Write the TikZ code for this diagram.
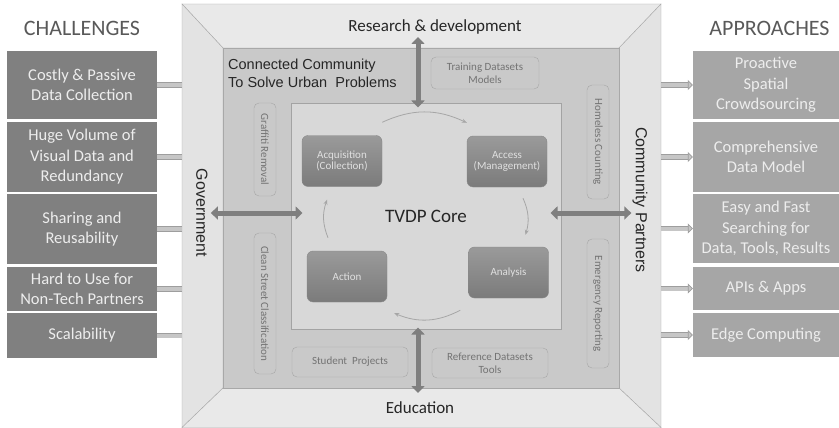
\documentclass[tikz,border=0pt]{standalone}
\usepackage{fontspec}
\setmainfont{Carlito}
\newfontfamily\arialfont{Liberation Sans}
\usepackage{xcolor}
\usepackage{tikz}
\usetikzlibrary{arrows.meta,shapes,positioning}

\definecolor{facelight}{HTML}{E9E9E9}
\definecolor{faceside}{HTML}{E3E3E3}
\definecolor{frameline}{HTML}{A8A8A8}
\definecolor{commfill}{HTML}{C9C9C9}
\definecolor{corefill}{HTML}{D8D8D8}
\definecolor{coreline}{HTML}{A3A3A3}
\definecolor{stagetop}{HTML}{9A9A9A}
\definecolor{stagebot}{HTML}{7B7B7B}
\definecolor{challfill}{HTML}{808080}
\definecolor{apprfill}{HTML}{A6A6A6}
\definecolor{barfill}{HTML}{C6C6C6}
\definecolor{barline}{HTML}{9E9E9E}
\definecolor{darkarrow}{HTML}{7F7F7F}
\definecolor{tagline}{HTML}{A6A6A6}
\definecolor{tagtext}{HTML}{737373}

\tikzset{
  challenge/.style={fill=challfill, text=white!93!black, minimum width=150pt, inner sep=0pt,
    align=center, font=\fontsize{16.5}{20.5}\selectfont},
  approach/.style={challenge, fill=apprfill, minimum width=146pt},
  stage/.style={rounded corners=6pt, draw=stagebot!90, top color=stagetop, bottom color=stagebot,
    text=white!88!black, minimum width=80pt, minimum height=51pt, align=center,
    font=\fontsize{11}{11.5}\selectfont},
  tag/.style={rounded corners=5pt, draw=tagline, text=tagtext, align=center, inner sep=0pt,
    font=\fontsize{11}{13}\selectfont},
  side/.style={font=\arialfont\fontsize{16}{18}\selectfont, text=black!85, rotate=-90, inner sep=1pt},
  biarrow/.style={darkarrow, line width=5pt,
    {Triangle[width=13pt,length=7pt]}-{Triangle[width=13pt,length=7pt]}},
  turn/.style={black!35, line width=0.8pt, -{Stealth[length=5pt,width=4pt]}},
  linkbar/.style={draw=barline, double=barfill, double distance=4pt, line width=0.7pt},
  outarrow/.style={linkbar, -{Triangle[width=10pt,length=5pt,fill=barfill]}},
}

\begin{document}
\begin{tikzpicture}[x=1pt, y=-1pt]
    \useasboundingbox (0,0) rectangle (839,428);

    % the open box
    \coordinate (o1) at (182,4);
    \coordinate (o2) at (661,4);
    \coordinate (o3) at (661,427.5);
    \coordinate (o4) at (182,427.5);
    \coordinate (i1) at (223,48);
    \coordinate (i2) at (619,48);
    \coordinate (i3) at (619,388);
    \coordinate (i4) at (223,388);
    \filldraw[fill=facelight, draw=frameline] (o1) -- (o2) -- (i2) -- (i1) -- cycle;
    \filldraw[fill=faceside, draw=frameline] (o1) -- (i1) -- (i4) -- (o4) -- cycle;
    \filldraw[fill=faceside, draw=frameline] (o2) -- (o3) -- (i3) -- (i2) -- cycle;
    \filldraw[fill=facelight, draw=frameline] (o4) -- (i4) -- (i3) -- (o3) -- cycle;

    \node[draw=frameline, fill=commfill, minimum width=396pt, minimum height=340pt, inner sep=0pt]
        (community) at (421,218) {};
    \node[anchor=north west, align=left, inner sep=0pt, text=black!85,
        font=\arialfont\fontsize{14.5}{18}\selectfont] (ccp) at (228,58.5)
        {Connected Community\\To Solve Urban\ \ Problems};
    \node[draw=coreline, fill=corefill, line width=1pt, minimum width=270pt, minimum height=225pt,
        text=black!85, font=\fontsize{19}{22}\selectfont] (core) at (426,216.5) {TVDP Core};

    % lifecycle
    \node[stage] (acq) at (342,161) {Acquisition\\(Collection)};
    \node[stage] (acc) at (507,161.5) {Access\\(Management)};
    \node[stage] (act) at (347,276.5) {Action};
    \node[stage] (ana) at (508.5,272.5) {Analysis};
    \draw[turn] ([yshift=13pt]acq.north east) to[bend left=25] ([yshift=13pt]acc.north west);
    \draw[turn] ([xshift=16pt,yshift=-11pt]acc.south) to[bend left=20] ([xshift=17pt,yshift=12pt]ana.north);
    \draw[turn] ([xshift=-8pt,yshift=-12pt]ana.south west) to[bend left=25] ([xshift=7pt,yshift=-11pt]act.south east);
    \draw[turn] ([xshift=-19pt,yshift=13pt]act.north) to[bend left=20] ([xshift=-15pt,yshift=-13pt]acq.south);

    % use cases
    \node[tag, minimum width=108pt, minimum height=32pt] (trainds) at (485,73) {Training Datasets\\Models};
    \node[tag, rotate=-90, minimum width=114pt, minimum height=22pt] (homeless) at (598,142) {Homeless Counting};
    \node[tag, rotate=-90, minimum width=129pt, minimum height=22pt] (emergency) at (598,303.5) {Emergency Reporting};
    \node[tag, rotate=-90, minimum width=93pt, minimum height=22pt] (graffiti) at (265,149.5) {Graffiti Removal};
    \node[tag, rotate=-90, minimum width=141pt, minimum height=22pt] (cleanst) at (265,303.5) {Clean Street Classification};
    \node[tag, minimum width=116pt, minimum height=30pt] (students) at (350,362) {Student\ \ Projects};
    \node[tag, minimum width=116pt, minimum height=30pt] (refds) at (490,363) {Reference Datasets\\Tools};

    % the four sides
    \node[font=\fontsize{17}{20}\selectfont, text=black!85] (research) at (435,27) {Research \& development};
    \node[font=\fontsize{17}{20}\selectfont, text=black!85] (edu) at (420,408) {Education};
    \node[side] (gov) at (202,213) {Government};
    \node[side] (partners) at (640,200) {Community Partners};
    \coordinate (rdtop) at (418,37);
    \coordinate (edbot) at (418,393);
    \draw[biarrow] (rdtop) -- ([yshift=-4pt]rdtop |- core.north);
    \draw[biarrow] ([yshift=2pt]edbot |- core.south) -- (edbot);
    \draw[biarrow] ([xshift=2pt]gov.north) -- ([xshift=12pt]gov.north -| core.west);
    \draw[biarrow] ([xshift=-11pt]gov.north -| core.east) -- (gov.north -| partners.south);

    % challenges
    \node[font=\fontsize{22}{24}\selectfont, text=black!65] (challenges) at (82,28) {CHALLENGES};
    \foreach \n/\y/\h/\t in {1/85/68/{Costly \& Passive\\Data Collection},
        2/157/70/{Huge Volume of\\Visual Data and\\Redundancy}, 3/229/70/{Sharing and\\Reusability},
        4/289/44/{Hard to Use for\\Non-Tech Partners}, 5/335.5/45/{Scalability}}{
        \node[challenge, minimum height=\h pt] (ch\n) at (82,\y) {\t};
        \draw[linkbar] (ch\n.east) -- (ch\n.east -| o1);
    }

    % approaches
    \node[font=\fontsize{22}{24}\selectfont, text=black!65] (approaches) at (769.5,28) {APPROACHES};
    \foreach \n/\y/\h/\t in {1/85/68/{Proactive\\Spatial\\Crowdsourcing},
        2/157/70/{Comprehensive\\Data Model}, 3/228.5/69/{Easy and Fast\\Searching for\\Data, Tools, Results},
        4/288.5/43/{APIs \& Apps}, 5/335/44/{Edge Computing}}{
        \node[approach, minimum height=\h pt] (ap\n) at (766,\y) {\t};
        \draw[outarrow] (ap\n.west -| o2) -- (ap\n.west);
    }
\end{tikzpicture}
\end{document}
